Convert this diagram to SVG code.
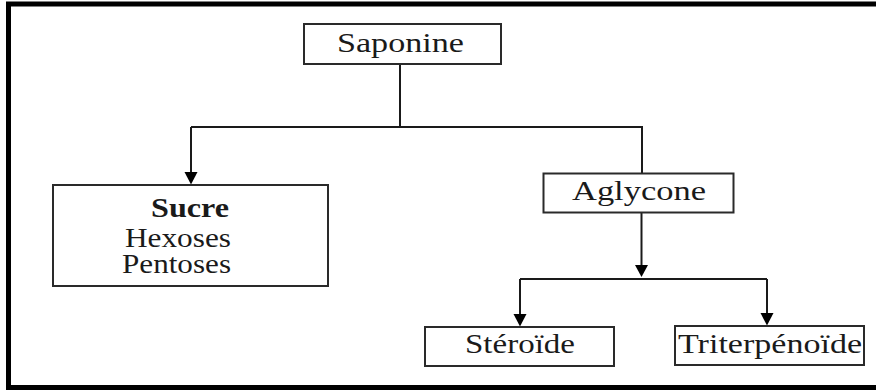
<svg xmlns="http://www.w3.org/2000/svg" width="876" height="392" viewBox="0 0 876 392">
<style>
.box{fill:#fff;stroke:#2a2a2a;stroke-width:2}
.ln{fill:none;stroke:#1a1a1a;stroke-width:2}
.ah{fill:#000}
text{font-family:'Liberation Serif','Times New Roman',Times,serif;font-size:28px;fill:#1a1a1a}
.c{text-anchor:middle}
.b{font-weight:bold}
</style>
<rect x="8.5" y="4" width="880" height="383.5" fill="#fff" stroke="#000" stroke-width="5"/>
<g id="connectors">
<path class="ln" d="M400,64 V127 M191,127 H642 V173"/>
<path class="ln" d="M191,127 V173"/>
<path class="ah" d="M184.5,172 L197.5,172 L191,184.5 Z"/>
<path class="ln" d="M641.5,212 V266"/>
<path class="ah" d="M635,265 L648,265 L641.5,277 Z"/>
<path class="ln" d="M520,279 H767"/>
<path class="ln" d="M520,279 V315 M767,279 V314"/>
<path class="ah" d="M513.5,314 L526.5,314 L520,326.5 Z"/>
<path class="ah" d="M760.5,313 L773.5,313 L767,325.5 Z"/>
</g>
<g id="saponine">
<rect class="box" x="304" y="24" width="197" height="40"/>
<text class="c" x="400.5" y="52" font-family="Liberation Serif, serif" textLength="127" lengthAdjust="spacingAndGlyphs">Saponine</text>
</g>
<g id="sucre">
<rect class="box" x="53" y="185" width="275" height="101"/>
<text class="b" x="151" y="217" font-family="Liberation Serif, serif" textLength="78" lengthAdjust="spacingAndGlyphs">Sucre</text>
<text x="125" y="246.5" font-family="Liberation Serif, serif" textLength="106" lengthAdjust="spacingAndGlyphs">Hexoses</text>
<text x="122" y="273" font-family="Liberation Serif, serif" textLength="109" lengthAdjust="spacingAndGlyphs">Pentoses</text>
</g>
<g id="aglycone">
<rect class="box" x="543.5" y="173.5" width="190" height="39"/>
<text class="c" x="639" y="200" font-family="Liberation Serif, serif" textLength="134" lengthAdjust="spacingAndGlyphs">Aglycone</text>
</g>
<g id="steroide">
<rect class="box" x="425" y="327" width="189" height="39"/>
<text class="c" x="520" y="353" font-family="Liberation Serif, serif" textLength="110" lengthAdjust="spacingAndGlyphs">Stéroïde</text>
</g>
<g id="triterpenoide">
<rect class="box" x="675" y="326" width="189" height="39"/>
<text class="c" x="770" y="353" font-family="Liberation Serif, serif" textLength="184" lengthAdjust="spacingAndGlyphs">Triterpénoïde</text>
</g>
</svg>
